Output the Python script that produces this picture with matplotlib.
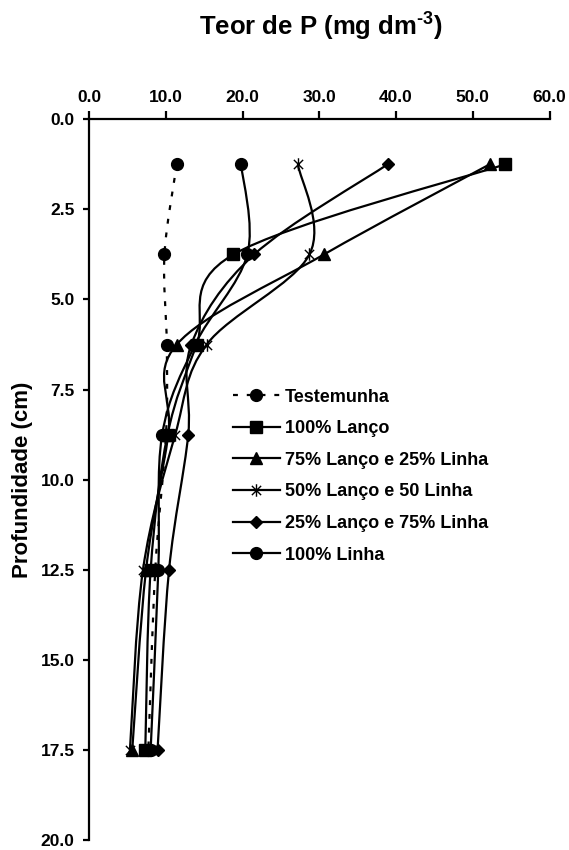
import matplotlib
matplotlib.use('Agg')
import matplotlib.pyplot as plt
from matplotlib import font_manager as fm
from matplotlib.path import Path
from matplotlib.patches import PathPatch
from matplotlib.lines import Line2D
import numpy as np

# ---------------- data ----------------
depth = [1.25, 3.75, 6.25, 8.75, 12.5, 17.5]
testemunha = [11.4, 9.8, 10.1, 10.0, 8.6, 7.7]
lanco100 = [54.2, 18.8, 14.0, 10.2, 8.0, 7.3]
lanco75_linha25 = [52.2, 30.6, 11.4, 10.3, 7.4, 5.6]
lanco50_linha50 = [27.2, 28.7, 15.3, 11.2, 7.0, 5.3]
lanco25_linha75 = [38.9, 21.5, 13.3, 12.9, 10.4, 8.9]
linha100 = [19.8, 20.6, 13.8, 9.5, 9.0, 8.0]

labels = ['Testemunha', '100% Lanço', '75% Lanço e 25% Linha',
          '50% Lanço e 50 Linha', '25% Lanço e 75% Linha', '100% Linha']
xticks = [0, 10, 20, 30, 40, 50, 60]
yticks = [0, 2.5, 5, 7.5, 10, 12.5, 15, 17.5, 20]

# ---------------- fonts ----------------
names = {f.name for f in fm.fontManager.ttflist}
NARROW = 'Liberation Sans Narrow' in names
BASE = 'Liberation Sans'
if NARROW:
    tick_font = dict(family='Liberation Sans Narrow', weight='bold', size=13)
    leg_font = dict(family='Liberation Sans Narrow', weight='bold', size=15)
else:
    tick_font = dict(family=BASE, weight='bold', size=12.5)
    leg_font = dict(family=BASE, weight='bold', size=13)

plt.rcParams['font.family'] = [BASE, 'DejaVu Sans']
plt.rcParams['mathtext.fontset'] = 'custom'
plt.rcParams['mathtext.rm'] = 'Liberation Sans:bold'
plt.rcParams['mathtext.bf'] = 'Liberation Sans:bold'
plt.rcParams['mathtext.default'] = 'bf'

# star marker like Excel (x with vertical bar)
star = Path([(-1, -1), (1, 1), (-1, 1), (1, -1), (0, -1.35), (0, 1.35)],
            [Path.MOVETO, Path.LINETO, Path.MOVETO, Path.LINETO, Path.MOVETO, Path.LINETO])


def smooth_path(xs, ys):
    pts = np.column_stack([xs, ys]).astype(float)
    n = len(pts)
    verts = [pts[0]]
    codes = [Path.MOVETO]
    for i in range(n - 1):
        p0 = pts[i - 1] if i > 0 else pts[i]
        p1 = pts[i]
        p2 = pts[i + 1]
        p3 = pts[i + 2] if i + 2 < n else pts[i + 1]
        c1 = p1 + (p2 - p0) / 6.0
        c2 = p2 - (p3 - p1) / 6.0
        verts += [c1, c2, p2]
        codes += [Path.CURVE4] * 3
    return Path(verts, codes)


W, H = 569, 850
fig = plt.figure(figsize=(W / 100, H / 100), dpi=100)
x0, x1 = 89.3, 549.5
y0, y1 = 119.3, 840.0
ax = fig.add_axes([x0 / W, 1 - y1 / H, (x1 - x0) / W, (y1 - y0) / H])
ax.set_xlim(0, 60)
ax.set_ylim(20, 0)

series = [testemunha, lanco100, lanco75_linha25, lanco50_linha50, lanco25_linha75, linha100]
markers = ['o', 's', '^', star, 'D', 'o']
msizes = [8.5, 8, 9, 9, 6.5, 8.5]
dash = (0, (2.2, 4.0))
styles = [dash, '-', '-', '-', '-', '-']

handles = []
for vals, m, ms, ls, lab in zip(series, markers, msizes, styles, labels):
    p = PathPatch(smooth_path(vals, depth), fill=False, edgecolor='black',
                  lw=1.6, linestyle=ls, capstyle='butt', zorder=2)
    ax.add_patch(p)
    ax.plot(vals, depth, linestyle='none', marker=m, ms=ms, color='black',
            mfc='black', mec='black', mew=1.0, zorder=3, clip_on=False)
    handles.append(Line2D([], [], color='black', lw=1.6, linestyle=ls, marker=m,
                          ms=ms, mfc='black', mec='black', mew=1.0))

# axes styling
for s in ['right', 'bottom']:
    ax.spines[s].set_visible(False)
for s in ['left', 'top']:
    ax.spines[s].set_linewidth(1.6)
ax.xaxis.tick_top()
ax.set_xticks(xticks)
ax.set_xticklabels([f'{v:.1f}' for v in xticks], **tick_font)
ax.set_yticks(yticks)
ax.set_yticklabels([f'{v:.1f}' for v in yticks], **tick_font)
ax.tick_params(axis='x', direction='out', length=5.5, width=1.6, pad=5)
ax.tick_params(axis='y', direction='out', length=4.5, width=1.6, pad=6)

ax.set_ylabel('Profundidade (cm)', family=BASE, weight='bold', size=16, labelpad=0)
ax.yaxis.set_label_coords((23 - x0) / (x1 - x0), 0.5)
ax.yaxis.label.set_verticalalignment('center')

fig.text(321 / W, 1 - 36 / H, 'Teor de P (mg dm$^{\u20103}$)', ha='center', va='baseline',
         family=BASE, weight='bold', size=18.5)

leg = ax.legend(handles=handles, labels=labels, loc='upper left',
                bbox_to_anchor=((233 - x0) / (x1 - x0), 1 - (388.5 - y0) / (y1 - y0)),
                frameon=False, prop=leg_font, handlelength=2.6, handletextpad=0.28,
                labelspacing=0.81, borderpad=0, borderaxespad=0)

fig.savefig('out.png', dpi=100)
